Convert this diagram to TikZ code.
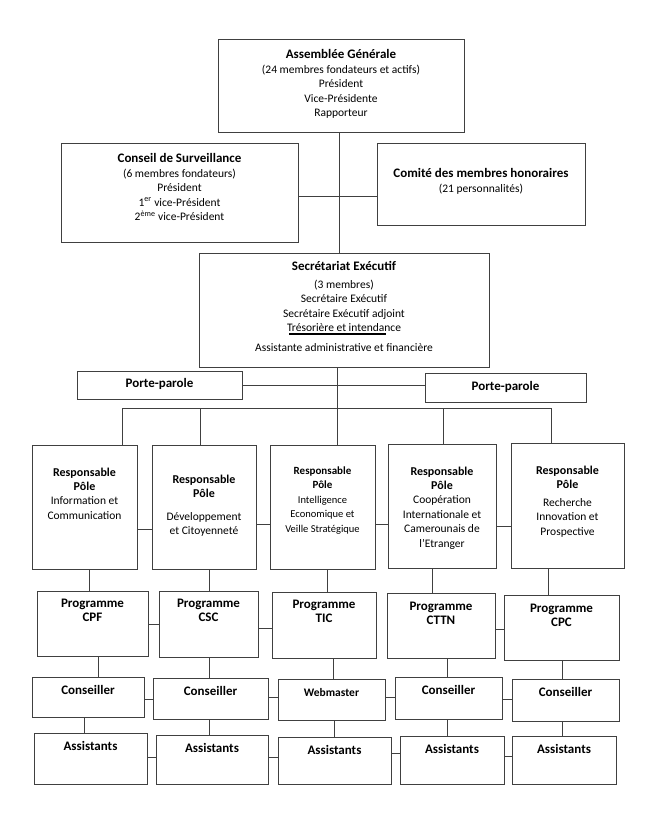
\documentclass[tikz,border=0pt]{standalone}
\usepackage{fontspec}
\setmainfont{Carlito}
\newcommand{\bodyfont}{\fontsize{11.5}{14.4}\selectfont}
\newcommand{\hd}[2][13]{{\fontsize{#1}{14.4}\selectfont\bfseries #2}}
\newcommand{\sm}[1]{{\fontsize{10.5}{14.7}\selectfont #1}}
\tikzset{
  box/.style 2 args={draw=black!75, line width=1pt, minimum width=#1pt, minimum height=#2pt, inner sep=0pt},
  txt/.style={anchor=north, align=center, inner sep=0pt, font=\bodyfont},
  intext/.style 2 args={label={[txt, yshift=-#1pt]north:{#2}}},
  link/.style={draw=black!75, line width=0.9pt},
}

\begin{document}
\begin{tikzpicture}[x=1pt, y=-1pt]
    \useasboundingbox (0,0) rectangle (654,823);

    % top of the chart
    \node[box={246}{93}, intext={11}{\hd{Assemblée Générale}\\(24 membres fondateurs et actifs)\\Président\\Vice-Présidente\\Rapporteur}] (ag) at (341,85.5) {};
    \node[box={237}{99}, intext={11}{\hd{Conseil de Surveillance}\\(6 membres fondateurs)\\Président\\1\textsuperscript{er} vice-Président\\2\textsuperscript{ème} vice-Président}] (cs) at (179.5,192.5) {};
    \node[box={208}{82}, intext={26}{\hd{Comité des membres honoraires}\\(21 personnalités)}] (cm) at (481,184) {};
    \node[box={290}{114}, intext={9}{\hd{Secrétariat Exécutif}\\[3pt](3 membres)\\Secrétaire Exécutif\\Secrétaire Exécutif adjoint\\Trésorière et intendance\\[6pt]Assistante administrative et financière}] (se) at (344,310) {};
    \draw[line width=1.5pt] (289,334) -- (386,334);

    \node[box={165}{28}, intext={7.5}{\hd{Porte-parole}}] (ppl) at (159.5,385) {};
    \node[box={161}{29}, intext={8.5}{\hd{Porte-parole}}] (ppr) at (505.5,387.5) {};

    % poles
    \node[box={105}{124}, intext={23}{\hd[12]{Responsable}\\\hd[12]{Pôle}\\Information et\\Communication}] (p1) at (84.5,507) {};
    \node[box={104}{124}, intext={30}{\hd[12]{Responsable}\\\hd[12]{Pôle}\\[8.5pt]Développement\\et Citoyenneté}] (p2) at (204,507) {};
    \node[box={105}{124}, intext={22}{\hd[11]{Responsable}\\\hd[11]{Pôle}\\\sm{Intelligence}\\\sm{Economique et}\\\sm{Veille Stratégique}}] (p3) at (322.5,507) {};
    \node[box={108}{124}, intext={23}{\hd[12]{Responsable}\\\hd[12]{Pôle}\\Coopération\\Internationale et\\Camerounais de\\l'Etranger}] (p4) at (442,506) {};
    \node[box={113}{125}, intext={23}{\hd[12]{Responsable}\\\hd[12]{Pôle}\\[3.5pt]Recherche\\Innovation et\\Prospective}] (p5) at (567.5,505.5) {};

    % programmes
    \node[box={111}{65}, intext={8}{\hd{Programme}\\\hd{CPF}}] (cpf) at (92.5,623.5) {};
    \node[box={99}{66}, intext={8}{\hd{Programme}\\\hd{CSC}}] (csc) at (208.5,624) {};
    \node[box={104}{66}, intext={8}{\hd{Programme}\\\hd{TIC}}] (tic) at (324,625) {};
    \node[box={108}{65}, intext={9}{\hd{Programme}\\\hd{CTTN}}] (cttn) at (441,625.5) {};
    \node[box={115}{65}, intext={9}{\hd{Programme}\\\hd{CPC}}] (cpc) at (561.5,627.5) {};

    % conseillers
    \node[box={112}{40}, intext={8.5}{\hd{Conseiller}}] (c1) at (88,697) {};
    \node[box={115}{41}, intext={8.5}{\hd{Conseiller}}] (c2) at (210.5,698.5) {};
    \node[box={107}{41}, intext={10}{\hd[11.5]{Webmaster}}] (web) at (331.5,699.5) {};
    \node[box={107}{42}, intext={8.5}{\hd{Conseiller}}] (c4) at (448.5,698) {};
    \node[box={107}{42}, intext={9}{\hd{Conseiller}}] (c5) at (565.5,700) {};

    % assistants
    \node[box={113}{51}, intext={9}{\hd{Assistants}}] (a1) at (90.5,758.5) {};
    \node[box={112}{49}, intext={9}{\hd{Assistants}}] (a2) at (212,759.5) {};
    \node[box={113}{47}, intext={9}{\hd{Assistants}}] (a3) at (334.5,760.5) {};
    \node[box={104}{48}, intext={9}{\hd{Assistants}}] (a4) at (452,760) {};
    \node[box={104}{48}, intext={9}{\hd{Assistants}}] (a5) at (564,760) {};

    % links
    \draw[link] (339,0 |- ag.south) -- (339,0 |- se.north);
    \draw[link] (cs.east |- 0,196) -- (cm.west |- 0,196);
    \draw[link] (ppl.east) -- (ppl.east -| ppr.west);
    \coordinate (busl) at (122,408);
    \coordinate (busr) at (551,408);
    \draw[link] (337,0 |- se.south) -- (337,0 |- busl);
    \draw[link] (busl) -- (busr);
    \draw[link] (busl) -- (busl |- p1.north);
    \draw[link] (200,0 |- busl) -- (200,0 |- p2.north);
    \draw[link] (337,0 |- busl) -- (337,0 |- p3.north);
    \draw[link] (443,0 |- busl) -- (443,0 |- p4.north);
    \draw[link] (busr) -- (busr |- p5.north);

    \draw[link] (p1.east |- 0,529) -- (p2.west |- 0,529);
    \draw[link] (p2.east |- 0,524) -- (p3.west |- 0,524);
    \draw[link] (p3.east |- 0,524) -- (p4.west |- 0,524);
    \draw[link] (p4.east |- 0,526) -- (p5.west |- 0,526);

    \draw[link] (89,0 |- p1.south) -- (89,0 |- cpf.north);
    \draw[link] (209,0 |- p2.south) -- (209,0 |- csc.north);
    \draw[link] (327,0 |- p3.south) -- (327,0 |- tic.north);
    \draw[link] (432,0 |- p4.south) -- (432,0 |- cttn.north);
    \draw[link] (548,0 |- p5.south) -- (548,0 |- cpc.north);

    \draw[link] (cpf.east |- 0,624) -- (csc.west |- 0,624);
    \draw[link] (csc.east |- 0,628) -- (tic.west |- 0,628);
    \draw[link] (cttn.east |- 0,629) -- (cpc.west |- 0,629);

    \draw[link] (98,0 |- cpf.south) -- (98,0 |- c1.north);
    \draw[link] (209,0 |- csc.south) -- (209,0 |- c2.north);
    \draw[link] (333,0 |- tic.south) -- (333,0 |- web.north);
    \draw[link] (447,0 |- cttn.south) -- (447,0 |- c4.north);
    \draw[link] (562,0 |- cpc.south) -- (562,0 |- c5.north);

    \draw[link] (c1.east |- 0,699) -- (c2.west |- 0,699);
    \draw[link] (c2.east |- 0,697) -- (web.west |- 0,697);
    \draw[link] (web.east |- 0,697) -- (c4.west |- 0,697);
    \draw[link] (c4.east |- 0,699) -- (c5.west |- 0,699);

    \draw[link] (84,0 |- c1.south) -- (84,0 |- a1.north);
    \draw[link] (209,0 |- c2.south) -- (209,0 |- a2.north);
    \draw[link] (334,0 |- web.south) -- (334,0 |- a3.north);
    \draw[link] (447,0 |- c4.south) -- (447,0 |- a4.north);
    \draw[link] (562,0 |- c5.south) -- (562,0 |- a5.north);

    \draw[link] (a1.east |- 0,757) -- (a2.west |- 0,757);
    \draw[link] (a2.east |- 0,757) -- (a3.west |- 0,757);
    \draw[link] (a3.east |- 0,753) -- (a4.west |- 0,753);
    \draw[link] (a4.east |- 0,756) -- (a5.west |- 0,756);

\end{tikzpicture}
\end{document}
